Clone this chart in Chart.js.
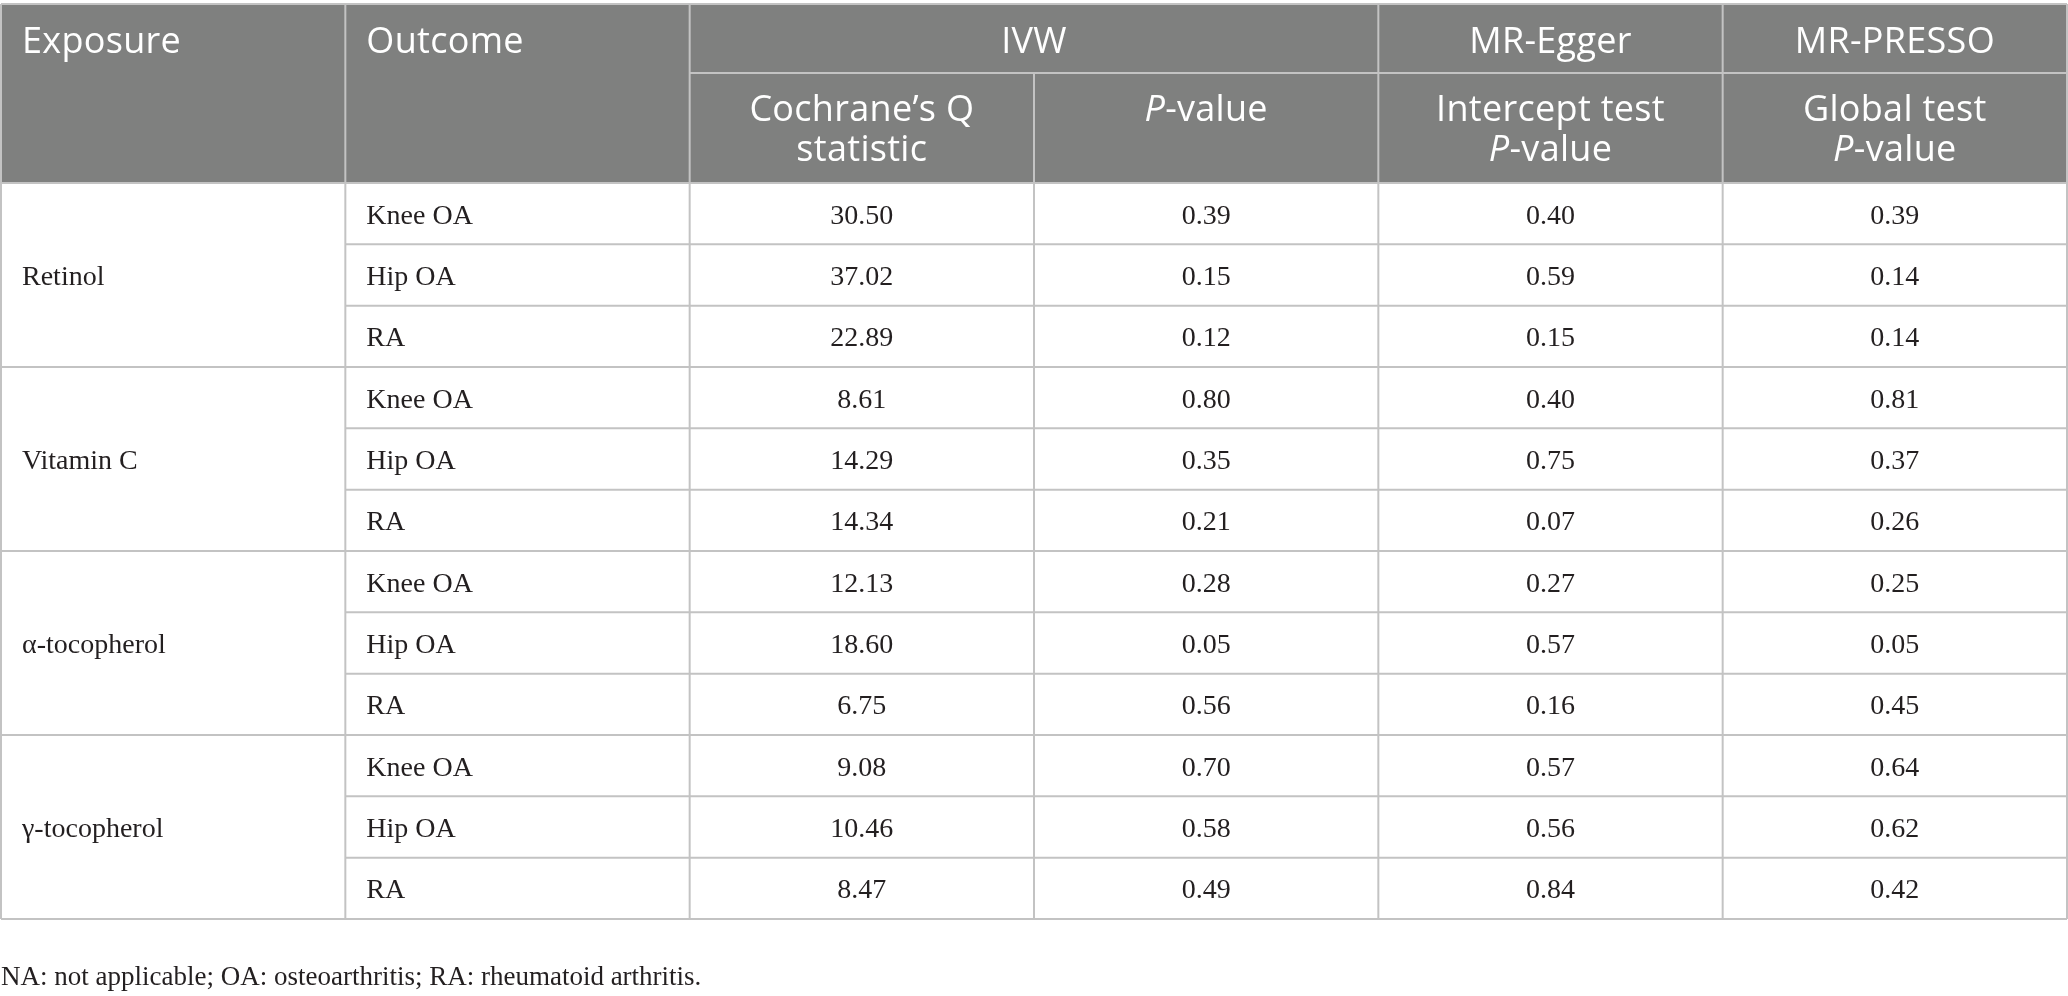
<!DOCTYPE html>
<html>
<head>
<meta charset="utf-8">
<script src="https://cdn.jsdelivr.net/npm/chart.js@4.4.1/dist/chart.umd.min.js"></script>
<style>
html,body{margin:0;background:#fff}
#wrap{width:2068px;height:996px;position:relative}
</style>
</head>
<body>
<div id="wrap"><canvas id="tbl"></canvas></div>
<script>
/* DATA */
const exposures=["Retinol","Vitamin C","α-tocopherol","γ-tocopherol"];
const outcomes=["Knee OA","Hip OA","RA","Knee OA","Hip OA","RA","Knee OA","Hip OA","RA","Knee OA","Hip OA","RA"];
const qStat=[30.50,37.02,22.89,8.61,14.29,14.34,12.13,18.60,6.75,9.08,10.46,8.47];
const ivwP=[0.39,0.15,0.12,0.80,0.35,0.21,0.28,0.05,0.56,0.70,0.58,0.49];
const eggerP=[0.40,0.59,0.15,0.40,0.75,0.07,0.27,0.57,0.16,0.57,0.56,0.84];
const pressoP=[0.39,0.14,0.14,0.81,0.37,0.26,0.25,0.05,0.45,0.64,0.62,0.42];
const topHeads=[["Exposure",0,1,"left"],["Outcome",1,2,"left"],["IVW",2,4,"center"],["MR-Egger",4,5,"center"],["MR-PRESSO",5,6,"center"]];
const subHeads=[
 [[{t:"Cochrane’s Q"}],[{t:"statistic"}]],
 [[{t:"P",i:1},{t:"-value"}]],
 [[{t:"Intercept test"}],[{t:"P",i:1},{t:"-value"}]],
 [[{t:"Global test"}],[{t:"P",i:1},{t:"-value"}]]
];
const footnote="NA: not applicable; OA: osteoarthritis; RA: rheumatoid arthritis.";

const numCols=[qStat,ivwP,eggerP,pressoP];

/* STYLE */
const HEAD_BG="#7f807f", LINE="#c3c3c3", INK="#231f20";
const HEAD_SIZE=36;
const BODY_FONT='28px "Liberation Serif"';
const NOTE_FONT='27px "Liberation Serif"';

function drawParts(ctx,parts,cx,y,size){
 let w=0;
 parts.forEach(p=>{ctx.font=(p.i?"italic ":"")+size+'px "Open Sans"';p.w=ctx.measureText(p.t).width;w+=p.w;});
 let x=cx-w/2;
 ctx.textAlign="left";
 parts.forEach(p=>{ctx.font=(p.i?"italic ":"")+size+'px "Open Sans"';ctx.fillText(p.t,x,y);x+=p.w;});
}

function hline(ctx,x1,x2,y){ctx.beginPath();ctx.moveTo(x1,y);ctx.lineTo(x2,y);ctx.stroke();}
function vline(ctx,x,y1,y2){ctx.beginPath();ctx.moveTo(x,y1);ctx.lineTo(x,y2);ctx.stroke();}

const tablePlugin={
 id:"tablePlugin",
 beforeDatasetsDraw(chart){
  const {ctx,chartArea:ca,scales:{x}}=chart;
  const hTop=ca.top-179;
  ctx.save();
  ctx.fillStyle=HEAD_BG;
  ctx.fillRect(x.getPixelForValue(0),hTop,x.getPixelForValue(6)-x.getPixelForValue(0),ca.top-hTop);
  ctx.restore();
 },
 afterDatasetsDraw(chart){
  const {ctx,chartArea:ca,scales:{x,y}}=chart;
  const hTop=ca.top-179, hMid=ca.top-110;
  ctx.save();
  /* grid lines */
  ctx.strokeStyle=LINE;ctx.lineWidth=2;
  hline(ctx,x.getPixelForValue(0),x.getPixelForValue(6),hTop);
  hline(ctx,x.getPixelForValue(2),x.getPixelForValue(6),hMid);
  hline(ctx,x.getPixelForValue(0),x.getPixelForValue(6),ca.top);
  for(let k=0;k<=6;k++){
   vline(ctx,x.getPixelForValue(k),k===3?hMid:hTop,y.getPixelForValue(outcomes.length));
  }
  outcomes.forEach((o,i)=>{
   const from=(i+1)%3===0?0:1;
   hline(ctx,x.getPixelForValue(from),x.getPixelForValue(6),y.getPixelForValue(i+1));
  });
  /* header text */
  ctx.fillStyle="#fff";ctx.font=HEAD_SIZE+'px "Open Sans"';ctx.letterSpacing="0.3px";ctx.textBaseline="alphabetic";
  topHeads.forEach(([t,a,b,al])=>{
   ctx.textAlign=al;
   const px=al==="left"?x.getPixelForValue(a)+21:(x.getPixelForValue(a)+x.getPixelForValue(b))/2;
   ctx.fillText(t,px,hTop+49);
  });
  subHeads.forEach((lines,j)=>{
   const cx=(x.getPixelForValue(j+2)+x.getPixelForValue(j+3))/2;
   lines.forEach((parts,l)=>drawParts(ctx,parts,cx,hMid+48+l*40,HEAD_SIZE));
  });
  ctx.letterSpacing="0px";
  /* body text */
  ctx.fillStyle=INK;ctx.font=BODY_FONT;
  ctx.textAlign="left";
  exposures.forEach((e,g)=>{
   ctx.fillText(e,x.getPixelForValue(0)+21,y.getPixelForValue(g*3+1.5)+10);
  });
  outcomes.forEach((o,i)=>{
   ctx.fillText(o,x.getPixelForValue(1)+21,y.getPixelForValue(i+0.5)+10);
  });
  ctx.textAlign="center";
  chart.data.datasets.forEach((ds,d)=>{
   chart.getDatasetMeta(d).data.forEach((pt,i)=>{
    ctx.fillText(ds.data[i].v.toFixed(2),pt.x,pt.y+10);
   });
  });
  /* footnote */
  ctx.font=NOTE_FONT;ctx.textAlign="left";
  ctx.fillText(footnote,x.getPixelForValue(0),ca.bottom+66);
  ctx.restore();
 }
};

new Chart(document.getElementById("tbl"),{
 type:"scatter",
 data:{
  datasets:numCols.map((vals,c)=>({
   data:vals.map((v,i)=>({x:c+2.5,y:i+0.5,v:v})),
   pointRadius:0,pointHoverRadius:0
  }))
 },
 options:{
  responsive:true,maintainAspectRatio:false,animation:false,
  layout:{padding:{top:183,bottom:77,left:1,right:1}},
  plugins:{legend:{display:false},tooltip:{enabled:false}},
  events:[],
  scales:{
   x:{type:"linear",min:0,max:6,display:false},
   y:{type:"linear",min:0,max:outcomes.length,reverse:true,display:false}
  }
 },
 plugins:[tablePlugin]
});
</script>
</body>
</html>
